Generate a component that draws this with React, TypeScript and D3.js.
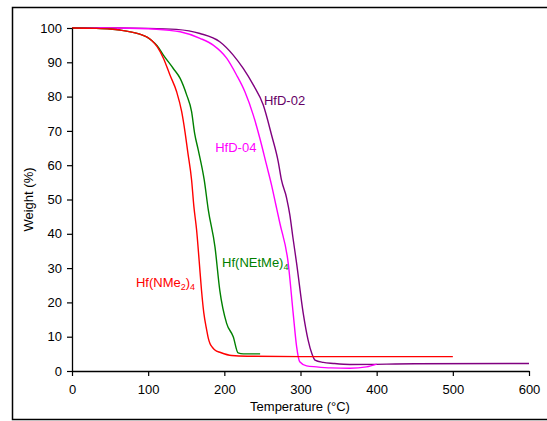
import { useEffect, useRef } from 'react';
import * as d3 from 'd3';

// TGA curves, temperature (°C) vs weight (%)
const nme2Temp = [0, 30, 50, 63, 89, 98, 105, 112, 120, 128.6, 137.4, 144, 148.3, 152, 157, 160, 163.6, 167, 170, 173, 176.8, 179, 181, 184, 187.6, 195, 209.6, 230, 300, 400, 500];
const nme2Weight = [100, 99.9, 99.7, 99.4, 98.2, 97.4, 96.3, 94.5, 91.2, 86.3, 81.4, 75.6, 69.8, 63.8, 55.7, 48, 41.1, 32, 23.6, 17, 12, 9.5, 8.1, 7, 6.1, 5.4, 4.5, 4.3, 4.2, 4.2, 4.2];

const netmeTemp = [0, 30, 50, 63, 89, 98, 105, 112, 120, 133, 142, 150.5, 157, 161, 165.8, 173.6, 179, 187.7, 194, 203, 211.7, 218, 225, 247];
const netmeWeight = [100, 99.9, 99.7, 99.4, 98.2, 97.4, 96.3, 94.8, 92.1, 88.2, 85.3, 80.5, 75.6, 69.3, 64.4, 55.7, 46.9, 36.2, 23.6, 13.9, 10, 5.3, 5.0, 5.0];

const hfd04Temp = [0, 50, 100, 124, 142, 168, 185.4, 203, 216, 227, 238, 246.7, 255.5, 262, 267.7, 273, 283.9, 290.4, 294.9, 299, 308, 321, 340, 365, 386.6, 400];
const hfd04Weight = [100, 100, 99.8, 99.4, 98.9, 97, 95, 91.2, 86.3, 81.4, 74.6, 67.8, 60, 54.2, 48.4, 43, 31.4, 16.8, 7.1, 2.7, 1.5, 1.2, 0.9, 0.8, 1.2, 2.0];

const hfd02Temp = [0, 50, 100, 137, 168, 194, 211.7, 224.8, 238, 251, 262, 270.8, 275, 281.7, 286, 290, 294.9, 303.6, 310, 315, 319, 330, 343, 365, 450, 600];
const hfd02Weight = [100, 100, 99.9, 99.6, 98.4, 96, 92.1, 88.2, 83.4, 77.6, 68.8, 61, 55.7, 50.5, 45.5, 39, 31.4, 16.8, 9, 5, 3.2, 2.5, 2.2, 1.9, 2.1, 2.2];

const xTicks = [0, 100, 200, 300, 400, 500, 600];
const yTicks = [0, 10, 20, 30, 40, 50, 60, 70, 80, 90, 100];

const FONT = 'Arial, "Liberation Sans", sans-serif';

const App = () => {
  const chartRef = useRef<SVGSVGElement>(null);

  useEffect(() => {
    const svg = d3.select(chartRef.current);
    svg.selectAll('*').remove();

    const x = d3.scaleLinear().domain([0, 600]).range([72, 529]);
    const y = d3.scaleLinear().domain([0, 100]).range([371, 28]);

    // outer frame (top, left, bottom)
    svg
      .append('path')
      .attr('d', 'M547,7.5H12.5V419.5H547')
      .attr('fill', 'none')
      .attr('stroke', '#000')
      .attr('stroke-width', 1.5);

    const series = [
      { t: hfd02Temp, w: hfd02Weight, color: '#800080' },
      { t: hfd04Temp, w: hfd04Weight, color: '#ff00ff' },
      { t: netmeTemp, w: netmeWeight, color: '#008000' },
      { t: nme2Temp, w: nme2Weight, color: '#ff0000' },
    ];

    const line = d3
      .line<[number, number]>()
      .curve(d3.curveMonotoneX)
      .x((d) => x(d[0]))
      .y((d) => y(d[1]));

    series.forEach((s) => {
      const pts = s.t.map((t, i) => [t, s.w[i]] as [number, number]);
      svg
        .append('path')
        .datum(pts)
        .attr('d', line)
        .attr('fill', 'none')
        .attr('stroke', s.color)
        .attr('stroke-width', 1.4);
    });

    // axes
    const xAxis = svg
      .append('g')
      .attr('transform', `translate(0,${y(0)})`)
      .call(d3.axisBottom(x).tickValues(xTicks).tickSize(5).tickSizeOuter(0).tickPadding(9));
    const yAxis = svg
      .append('g')
      .attr('transform', `translate(${x(0)},0)`)
      .call(d3.axisLeft(y).tickValues(yTicks).tickSize(5).tickSizeOuter(0).tickPadding(5));

    [xAxis, yAxis].forEach((g) => {
      g.select('.domain').attr('stroke', '#000').attr('stroke-width', 1.3);
      g.selectAll('.tick line').attr('stroke', '#000').attr('stroke-width', 1.2);
      g.selectAll('text').attr('font-family', FONT).attr('font-size', 13).attr('fill', '#000');
    });

    // axis titles
    svg
      .append('text')
      .attr('x', 300)
      .attr('y', 411)
      .attr('text-anchor', 'middle')
      .attr('font-family', FONT)
      .attr('font-size', 13)
      .text('Temperature (°C)');

    svg
      .append('text')
      .attr('transform', `translate(33,${(y(0) + y(100)) / 2}) rotate(-90)`)
      .attr('text-anchor', 'middle')
      .attr('font-family', FONT)
      .attr('font-size', 13)
      .text('Weight (%)');

    // series labels
    const labels = [
      { t: 252, w: 77.5, color: '#660066', parts: [['HfD-02', false]] },
      { t: 188, w: 63.8, color: '#ff00ff', parts: [['HfD-04', false]] },
      { t: 197, w: 30.2, color: '#008000', parts: [['Hf(NEtMe)', false], ['4', true]] },
      { t: 84, w: 24.6, color: '#ff0000', parts: [['Hf(NMe', false], ['2', true], [')', false], ['4', true]] },
    ];

    labels.forEach((l) => {
      const txt = svg
        .append('text')
        .attr('x', x(l.t))
        .attr('y', y(l.w))
        .attr('font-family', FONT)
        .attr('font-size', 13)
        .attr('fill', l.color);
      let down = false;
      l.parts.forEach(([s, sub]) => {
        const span = txt.append('tspan').text(s as string);
        if (sub && !down) {
          span.attr('font-size', 9).attr('dy', 3);
          down = true;
        } else if (!sub && down) {
          span.attr('dy', -3);
          down = false;
        } else if (sub) {
          span.attr('font-size', 9);
        }
      });
    });

    return () => {
      d3.select(chartRef.current).selectAll('*').remove();
    };
  }, []);

  return (
    <div style={{ position: 'absolute', left: 0, top: 0 }}>
      <svg ref={chartRef} width={547} height={421} style={{ display: 'block', background: '#fff' }}></svg>
    </div>
  );
};

export default App;
